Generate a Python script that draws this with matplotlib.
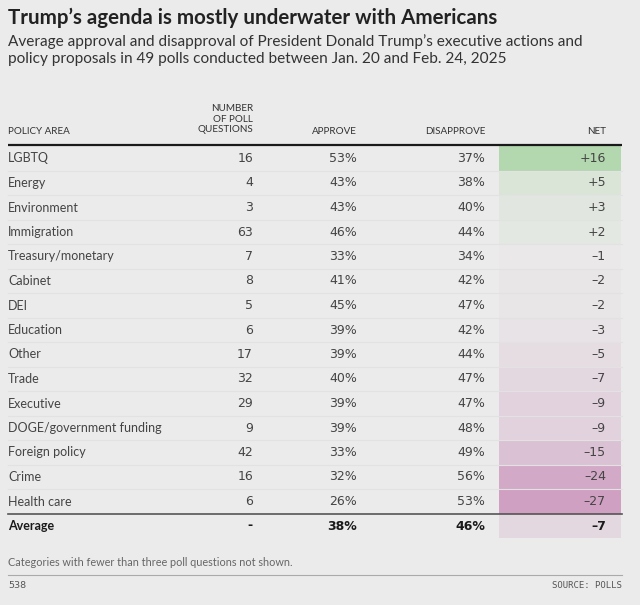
import matplotlib.pyplot as plt
import numpy as np
from matplotlib.colors import LinearSegmentedColormap, TwoSlopeNorm

areas = ['LGBTQ', 'Energy', 'Environment', 'Immigration', 'Treasury/monetary',
         'Cabinet', 'DEI', 'Education', 'Other', 'Trade', 'Executive',
         'DOGE/government funding', 'Foreign policy', 'Crime', 'Health care']
questions = [16, 4, 3, 63, 7, 8, 5, 6, 17, 32, 29, 9, 42, 16, 6]
approve = [53, 43, 43, 46, 33, 41, 45, 39, 39, 40, 39, 39, 33, 32, 26]
disapprove = [37, 38, 40, 44, 34, 42, 47, 42, 44, 47, 47, 48, 49, 56, 53]
net = [16, 5, 3, 2, -1, -2, -2, -3, -5, -7, -9, -9, -15, -24, -27]
avg_approve, avg_disapprove, avg_net = 38, 46, -7

bg = '#ebebeb'
cmap = LinearSegmentedColormap.from_list('net', ['#cd9bbf', bg, '#b0d6ac'])
norm = TwoSlopeNorm(vcenter=0, vmin=-29, vmax=17)

def fmt_net(v):
    return f'+{v}' if v > 0 else f'\u2013{abs(v)}' if v < 0 else '0'

num_font = ['Liberation Sans Narrow', 'DejaVu Sans']
txt_font = ['Lato', 'DejaVu Sans']

fig = plt.figure(figsize=(6.4, 6.05), dpi=100, facecolor=bg)
ax = fig.add_axes([0, 0, 1, 1])
ax.set_xlim(0, 640)
ax.set_ylim(605, 0)
ax.axis('off')
ax.set_facecolor(bg)

ax.text(8, 18, 'Trump\u2019s agenda is mostly underwater with Americans', fontsize=14.8,
        fontweight='bold', family=txt_font, color='#222222', va='center')
ax.text(8, 42, 'Average approval and disapproval of President Donald Trump\u2019s executive actions and',
        fontsize=11.05, family=txt_font, color='#333333', va='center')
ax.text(8, 59, 'policy proposals in 49 polls conducted between Jan. 20 and Feb. 24, 2025',
        fontsize=11.05, family=txt_font, color='#333333', va='center')

hdr = dict(fontsize=7.1, family=txt_font, color='#333333', va='center')
ax.text(8, 131, 'POLICY AREA', ha='left', **hdr)
ax.text(253, 119, 'NUMBER\nOF POLL\nQUESTIONS', ha='right', multialignment='right',
        linespacing=1.2, **hdr)
ax.text(357, 131, 'APPROVE', ha='right', **hdr)
ax.text(485, 131, 'DISAPPROVE', ha='right', **hdr)
ax.text(606, 131, 'NET', ha='right', **hdr)
ax.plot([8, 622], [145, 145], color='#1a1a1a', lw=1.6, solid_capstyle='butt')

y0, dy = 158.5, 24.5
row_kw = dict(fontsize=9, va='center', color='#444444')
for i, name in enumerate(areas):
    y = y0 + i * dy
    ax.add_patch(plt.Rectangle((499, y - dy / 2), 122, dy, color=cmap(norm(net[i])), lw=0))
    if i < len(areas) - 1:
        ax.plot([8, 622], [y + dy / 2, y + dy / 2], color='#e2e2e2', lw=0.8)
    ax.text(8, y, name, ha='left', family=txt_font, **row_kw)
    ax.text(253, y, str(questions[i]), ha='right', family=num_font, **row_kw)
    ax.text(357, y, f'{approve[i]}%', ha='right', family=num_font, **row_kw)
    ax.text(485, y, f'{disapprove[i]}%', ha='right', family=num_font, **row_kw)
    ax.text(606, y, fmt_net(net[i]), ha='right', family=num_font, **row_kw)

ya = y0 + len(areas) * dy
ax.add_patch(plt.Rectangle((499, ya - dy / 2), 122, dy, color=cmap(norm(avg_net)), lw=0))
ax.plot([8, 622], [ya - dy / 2, ya - dy / 2], color='#555555', lw=1.2)
bold_kw = dict(fontsize=9, va='center', color='#1a1a1a', fontweight='bold')
ax.text(8, ya, 'Average', ha='left', family=txt_font, **bold_kw)
ax.text(253, ya, '-', ha='right', family=num_font, **bold_kw)
ax.text(357, ya, f'{avg_approve}%', ha='right', family=num_font, **bold_kw)
ax.text(485, ya, f'{avg_disapprove}%', ha='right', family=num_font, **bold_kw)
ax.text(606, ya, fmt_net(avg_net), ha='right', family=num_font, **bold_kw)

ax.text(8, 562, 'Categories with fewer than three poll questions not shown.', fontsize=7.8,
        family=txt_font, color='#666666', va='center')
ax.plot([8, 622], [575, 575], color='#aaaaaa', lw=0.8)
ax.text(8, 586, '538', fontsize=6.8, family=num_font, color='#555555', va='center')
ax.text(622, 586, 'SOURCE: POLLS', fontsize=6.5, family=['DejaVu Sans Mono'], color='#555555',
        va='center', ha='right')

fig.savefig('out.png', dpi=100, facecolor=bg)
